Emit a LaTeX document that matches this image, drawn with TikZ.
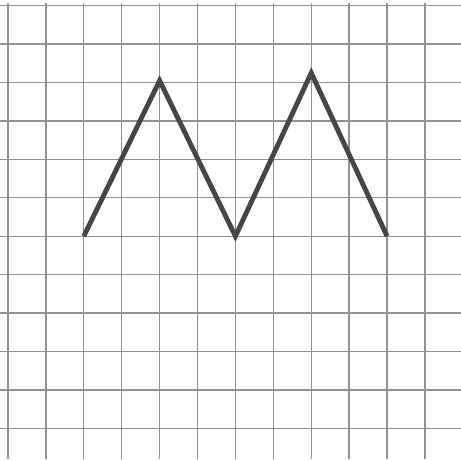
\documentclass[tikz,border=0pt]{standalone}
\definecolor{gridgray}{RGB}{145,145,145}
\definecolor{zigdark}{RGB}{70,70,70}
\usepackage{xcolor}
\usepackage{tikz}

\begin{document}
\begin{tikzpicture}[x=0.987cm,y=1cm]
        \useasboundingbox[fill=white] (-0.21,-0.80) rectangle (11.95,11.15);
        \foreach \i in {0,...,11} {
          \draw[draw=gridgray, line width=1pt] (\i,-0.80) -- (\i,11.06);
          \draw[draw=gridgray, line width=1pt] (-0.21,\i) -- (11.95,\i);
        }
        \coordinate (start) at (2,5);
        \coordinate (peakA) at (4,9.05);
        \coordinate (dip)   at (6,5);
        \coordinate (peakB) at (8,9.25);
        \coordinate (stop)  at (10,5);
        \draw[draw=zigdark, line width=3.6pt, line join=miter] (start) -- (peakA) -- (dip) -- (peakB) -- (stop);
      \end{tikzpicture}
\end{document}
